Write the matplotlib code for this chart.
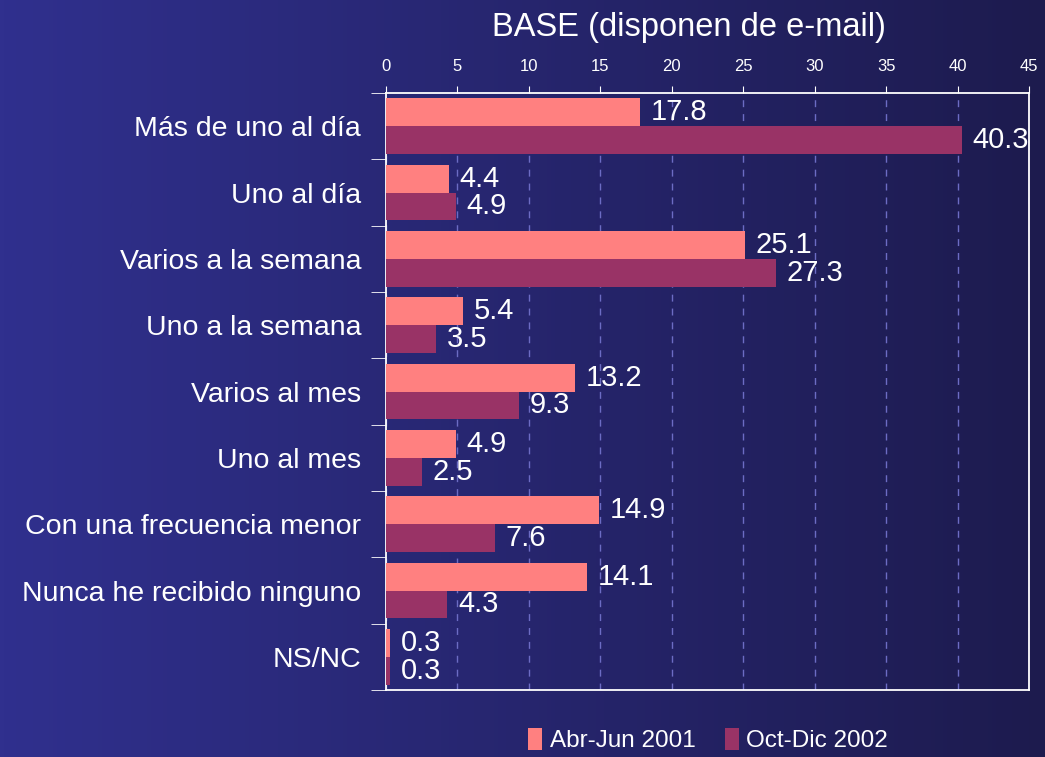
import numpy as np
import matplotlib
matplotlib.use('Agg')
import matplotlib.pyplot as plt
from matplotlib.colors import LinearSegmentedColormap

categories = [
    "Más de uno al día",
    "Uno al día",
    "Varios a la semana",
    "Uno a la semana",
    "Varios al mes",
    "Uno al mes",
    "Con una frecuencia menor",
    "Nunca he recibido ninguno",
    "NS/NC",
]
abr_jun_2001 = [17.8, 4.4, 25.1, 5.4, 13.2, 4.9, 14.9, 14.1, 0.3]
oct_dic_2002 = [40.3, 4.9, 27.3, 3.5, 9.3, 2.5, 7.6, 4.3, 0.3]
series_names = ["Abr-Jun 2001", "Oct-Dic 2002"]
x_ticks = [0, 5, 10, 15, 20, 25, 30, 35, 40, 45]

plt.rcParams['font.family'] = ['Liberation Sans', 'DejaVu Sans']

fig = plt.figure(figsize=(10.45, 7.57), dpi=100)

# horizontal gradient background
bg = fig.add_axes([0, 0, 1, 1], zorder=-10)
cmap = LinearSegmentedColormap.from_list('bg', ['#30308e', '#1d1b4e'])
bg.imshow(np.linspace(0, 1, 256).reshape(1, -1), aspect='auto', cmap=cmap,
          extent=[0, 1, 0, 1])
bg.axis('off')

ax = fig.add_axes([0.3694, 0.0885, 0.6153, 0.7886])
ax.patch.set_alpha(0)

y = np.arange(len(categories))
h = 0.42
pink = '#ff8080'
purple = '#993366'
b1 = ax.barh(y - h / 2, abr_jun_2001, height=h, color=pink, label=series_names[0], zorder=3)
b2 = ax.barh(y + h / 2, oct_dic_2002, height=h, color=purple, label=series_names[1], zorder=3)

for bars, vals in ((b1, abr_jun_2001), (b2, oct_dic_2002)):
    for bar, v in zip(bars, vals):
        ax.text(v + 0.75, bar.get_y() + bar.get_height() / 2, f"{v:.1f}",
                color='white', fontsize=21, va='center', ha='left', zorder=4)

ax.set_xlim(0, 45)
ax.set_ylim(len(categories) - 0.5, -0.5)

ax.xaxis.tick_top()
ax.set_xticks(x_ticks)
ax.tick_params(axis='x', colors='white', length=5, pad=9)
for lbl in ax.get_xticklabels():
    lbl.set_family(['Liberation Sans Narrow', 'Liberation Sans'])
    lbl.set_fontsize(12)
ax.grid(axis='x', color='#6c6cc4', linestyle=(0, (5, 5)), linewidth=1, zorder=1)

ax.set_yticks(y)
ax.set_yticklabels(categories)
ax.set_yticks(np.arange(len(categories) + 1) - 0.5, minor=True)
ax.tick_params(axis='y', which='major', length=0, pad=18, labelsize=20.5, labelcolor='white')
ax.tick_params(axis='y', which='minor', length=11, color='white')

for s in ax.spines.values():
    s.set_color('white')
    s.set_linewidth(1.3)

fig.text(0.659, 0.964, "BASE (disponen de e-mail)", color='white', fontsize=23.5,
         ha='center', va='center')

leg = fig.legend(handles=[b1, b2], labels=series_names, loc='center',
                 bbox_to_anchor=(0.6775, 0.022), ncol=2, frameon=False,
                 fontsize=17.5, labelcolor='white', handlelength=0.6,
                 handleheight=1.0, handletextpad=0.3, columnspacing=1.2,
                 borderpad=0.1)

fig.savefig('out.png', dpi=100)
